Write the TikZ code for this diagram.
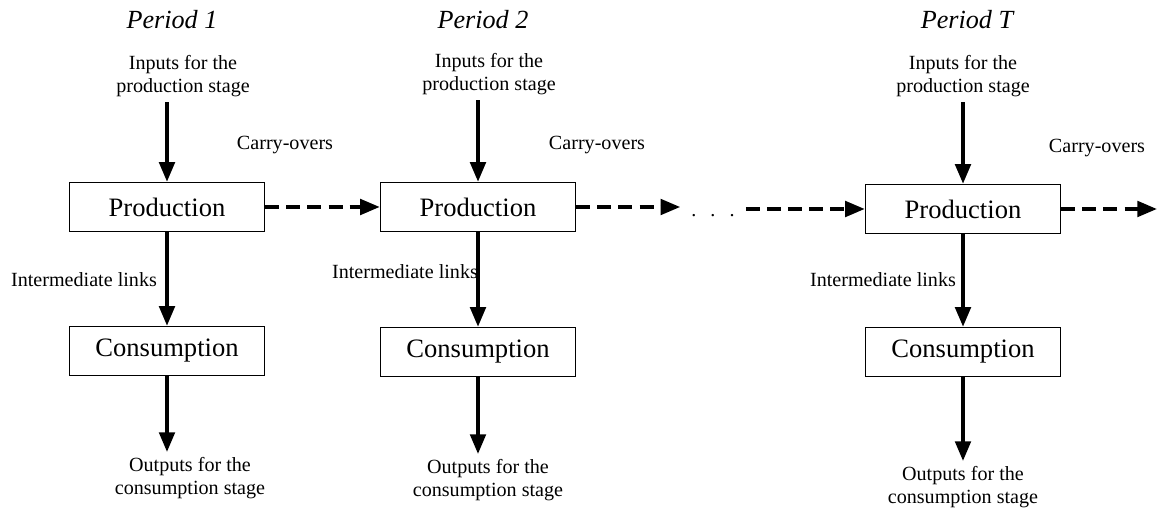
\documentclass[tikz,border=0pt]{standalone}
\usepackage{fontspec}
\setmainfont{Liberation Serif}
\usetikzlibrary{arrows.meta, positioning}

\tikzset{
  stagebox/.style={draw, line width=1pt, minimum width=4.875cm, minimum height=1.225cm,
    font=\fontsize{18.9}{22}\selectfont},
  note/.style={align=center, font=\fontsize{14.3}{16.8}\selectfont},
  period/.style={font=\fontsize{18.6}{22}\selectfont\itshape},
  flow/.style={line width=2.6pt, -{Triangle[length=14pt,width=11pt]}},
  carry/.style={flow, dash pattern=on 10pt off 5pt},
}

\begin{document}
\begin{tikzpicture}[x=0.025cm, y=-0.025cm]
    \useasboundingbox (0,0) rectangle (1159,510);
    % period 1
    \node[period] (t1) at (172,20) {Period 1};
    \node[note] (in1) at (183,76) {Inputs for the\\production stage};
    \node[stagebox] (p1) at (167,207) {Production};
    \node[stagebox] (c1) at (167,351) {Consumption};
    \node[note] (out1) at (190,478) {Outputs for the\\consumption stage};
    \node[note] (co1) at (285,145) {Carry-overs};
    \node[note] (il1) at (84,280) {Intermediate links};
    % period 2
    \node[period] (t2) at (483,20) {Period 2};
    \node[note] (in2) at (489,74) {Inputs for the\\production stage};
    \node[stagebox] (p2) at (478,207) {Production};
    \node[stagebox] (c2) at (478,352) {Consumption};
    \node[note] (out2) at (488,480) {Outputs for the\\consumption stage};
    \node[note] (co2) at (597,145) {Carry-overs};
    \node[note] (il2) at (405,272) {Intermediate links};
    % period T
    \node[period] (tT) at (967,20) {Period T};
    \node[note] (inT) at (963,76) {Inputs for the\\production stage};
    \node[stagebox] (pT) at (963,209) {Production};
    \node[stagebox] (cT) at (963,352) {Consumption};
    \node[note] (outT) at (963,487) {Outputs for the\\consumption stage};
    \node[note] (coT) at (1097,148) {Carry-overs};
    \node[note] (ilT) at (883,280) {Intermediate links};

    \node[note, minimum width=1.625cm, inner sep=0pt] (dots) at (713,216) {.\hspace{10pt}.\hspace{10pt}.};
    \coordinate (endT) at (1157,209);

    % vertical flows
    \draw[flow] (in1.south -| p1.north) -- (p1.north);
    \draw[flow] (p1.south) -- (c1.north);
    \draw[flow] (c1.south) -- (out1.north -| c1.south);
    \draw[flow] (in2.south -| p2.north) -- (p2.north);
    \draw[flow] (p2.south) -- (c2.north);
    \draw[flow] (c2.south) -- (out2.north -| c2.south);
    \draw[flow] (inT.south -| pT.north) -- (pT.north);
    \draw[flow] (pT.south) -- (cT.north);
    \draw[flow] (cT.south) -- (outT.north -| cT.south);

    % carry-overs
    \draw[carry] (p1.east) -- (p2.west);
    \draw[carry] (p2.east) -- (p2.east -| dots.west);
    \draw[carry] (pT.west -| dots.east) -- (pT.west);
    \draw[carry] (pT.east) -- (endT);
\end{tikzpicture}
\end{document}
